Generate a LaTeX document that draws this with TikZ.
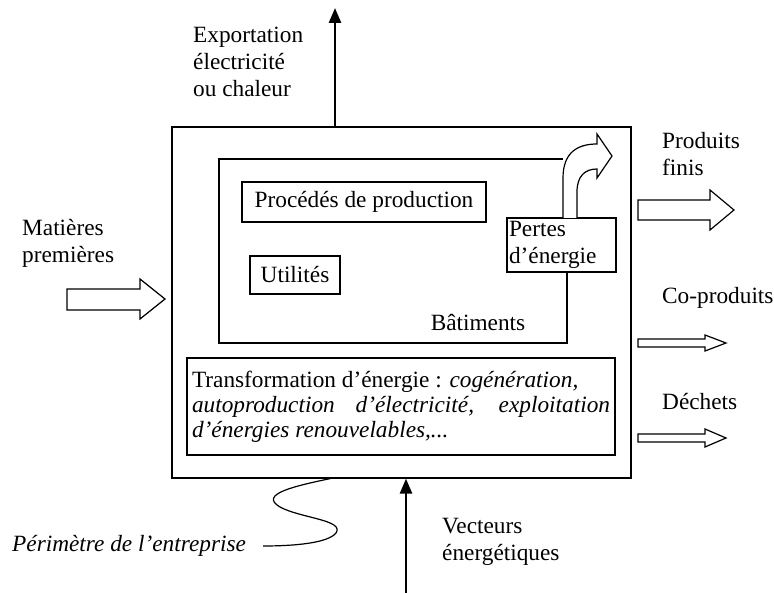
\documentclass[tikz,border=0pt]{standalone}
\usepackage{fontspec}
\setmainfont{Liberation Serif}
\usetikzlibrary{arrows.meta}
\begin{document}
\begin{tikzpicture}[x=1pt,y=-1pt,
  every node/.style={font=\fontsize{23.3}{27}\selectfont},
  boite/.style={draw,line width=1.2pt,inner sep=0pt},
  texte/.style={align=left,inner sep=0pt,anchor=west},
  fleche/.style={draw,line width=1.2pt,fill=white,line join=miter},
  flux/.style={line width=2.5pt,-{Triangle[length=15pt,width=12pt]}}]
\useasboundingbox (0,0) rectangle (774,593);
% entreprise et batiments
\node[boite,minimum width=459pt,minimum height=351pt] (ent) at (401.5,302.5) {};
\node[boite,minimum width=244pt,minimum height=40pt] (proc) at (364,202) {Procédés de production};
\node[boite,minimum width=90pt,minimum height=38pt] (util) at (295,275) {Utilités};
\node[boite,minimum width=109pt,minimum height=54pt,text width=105pt,align=left] (pertes) at (561.5,245) {Pertes\\d'énergie};
\node (bat) at (478,323) {Bâtiments};
\coordinate (batfin) at (567,272);
\draw[line width=1.2pt] (563,159) -- (219,159) -- (219,343) -- (567,343) -- (batfin);
\draw[fleche] (563,218) -- (563,178) .. controls (563,152) and (578,144) .. (597,144)
  -- (597,134) -- (612,156) -- (597,178) -- (597,169)
  .. controls (585,169) and (577,176) .. (577,192) -- (577,218);
\node[boite,minimum width=428pt,minimum height=97pt,text width=418pt,align=justify,
  font=\fontsize{23.3}{25}\selectfont] (transfo) at (401,406.5)
  {Transformation d'énergie : \textit{cogénération,}\\\textit{autoproduction d'électricité, exploitation\linebreak d'énergies renouvelables,...}};
% flux
\draw[fleche] (67,289) -- (140,289) -- (140,279) -- (165,299) -- (140,319) -- (140,310) -- (67,310) -- cycle;
\draw[fleche] (638,200) -- (710,200) -- (710,190) -- (734,210) -- (710,230) -- (710,220) -- (638,220) -- cycle;
\draw[fleche] (638,339) -- (705,339) -- (705,335) -- (726,343) -- (705,351) -- (705,347) -- (638,347) -- cycle;
\draw[fleche] (638,434) -- (705,434) -- (705,429) -- (726,438) -- (705,447) -- (705,442) -- (638,442) -- cycle;
\coordinate (haut) at (335,8);
\coordinate (bas) at (406,593);
\draw[flux] (ent.north -| haut) -- (haut);
\draw[flux] (bas) -- (bas |- ent.south);
% textes
\node[texte] (expo) at (193,62) {Exportation\\électricité\\ou chaleur};
\node[texte] (mat) at (22,243) {Matières\\premières};
\node[texte] (prod) at (662,154) {Produits\\finis};
\node[texte] (copr) at (662,298) {Co-produits};
\node[texte] (dech) at (662,402) {Déchets};
\node[texte] (vect) at (442,542) {Vecteurs\\énergétiques};
\node[texte,font=\fontsize{23.3}{27}\selectfont\itshape] (perim) at (12,546) {Périmètre de l'entreprise};
\coordinate (pli) at (333,478);
\draw[line width=1.2pt] (pli) .. controls (295,486) and (258,494) .. (280,507)
  .. controls (300,518) and (345,520) .. (336,533)
  .. controls (328,543) and (295,546) .. ([xshift=17pt]perim.east);
\end{tikzpicture}
\end{document}
